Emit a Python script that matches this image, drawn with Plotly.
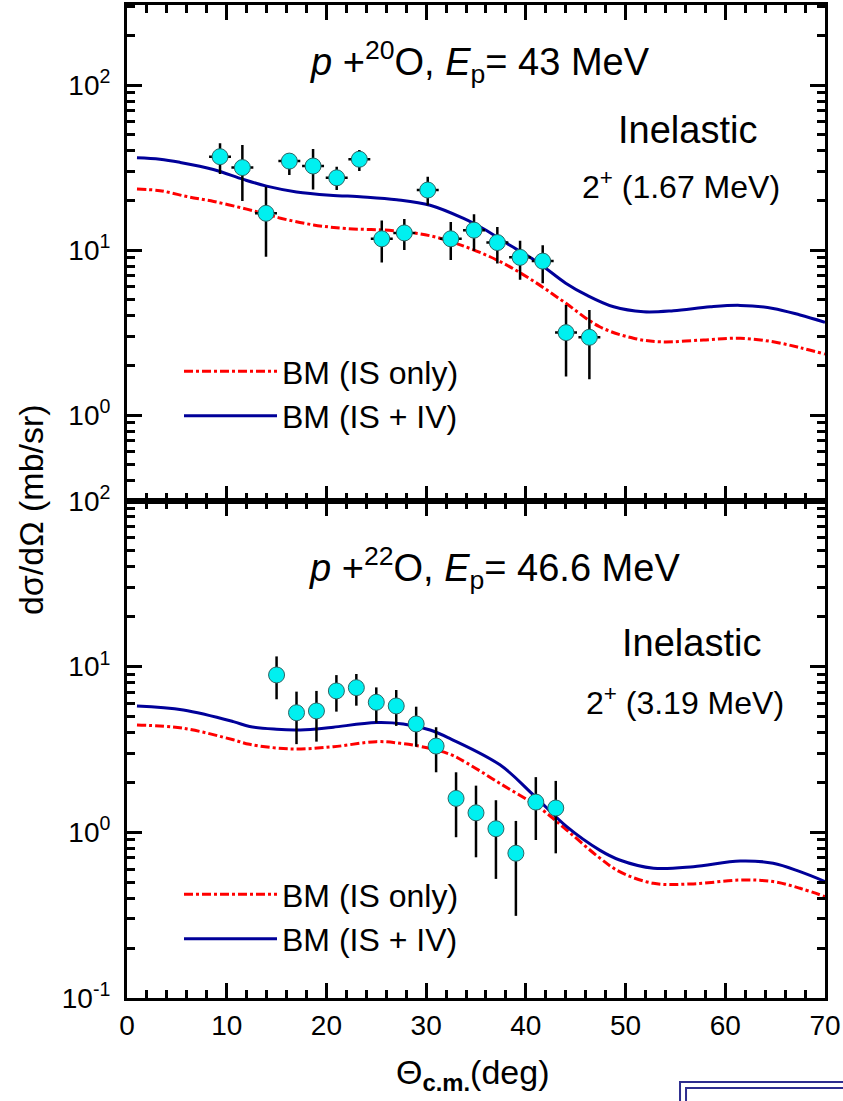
import plotly.graph_objects as go

# ---------------- data ----------------
# Top panel: p + 20O, Ep = 43 MeV
theta_20 = [9.33, 11.57, 13.94, 16.28, 18.66, 21.03, 23.3, 25.55, 27.81, 30.16,
            32.47, 34.8, 37.14, 39.42, 41.69, 44.03, 46.37]
xs_20 = [36.8, 31.6, 16.7, 34.6, 32.3, 27.4, 35.5, 11.7, 12.7, 23.1,
         11.7, 13.2, 11.1, 9.03, 8.57, 3.16, 2.96]
xs_20_hi = [44.4, 43.3, 24.2, 38.2, 40.9, 32.0, 40.4, 15.1, 15.4, 27.8,
            14.8, 16.5, 13.8, 11.4, 10.7, 4.64, 4.33]
xs_20_lo = [28.9, 19.8, 9.1, 28.5, 23.3, 23.1, 30.1, 8.4, 10.0, 18.7,
            8.7, 9.9, 8.3, 6.6, 6.3, 1.71, 1.65]
theta_err_20 = 1.1

th_iv_20 = [1, 3.3, 5.3, 8.66, 11.67, 14.0, 17.0, 20.36, 23.7, 27.05, 30.4, 33.7,
            35.7, 38.4, 41.1, 44.0, 46.1, 48.8, 51.8, 54.8, 58.5, 61.5, 64.8, 67.5, 70]
bm_iv_20 = [36.2, 35.5, 34.0, 30.8, 26.8, 24.4, 22.5, 21.5, 21.0, 20.2, 18.7, 15.6,
            13.5, 10.7, 8.5, 6.3, 5.33, 4.53, 4.23, 4.29, 4.53, 4.62, 4.43, 4.04, 3.65]
th_is_20 = [1, 3.3, 6.0, 8.7, 12.0, 14.0, 15.4, 18.7, 22.0, 26.7, 30.4, 33.7, 37.1,
            40.4, 43.8, 47.4, 50.8, 53.5, 57.8, 61.5, 64.8, 67.5, 70]
bm_is_20 = [23.4, 22.9, 21.1, 19.7, 17.7, 16.5, 15.6, 14.2, 13.5, 13.1, 12.2, 10.6, 8.7,
            6.7, 4.86, 3.43, 2.92, 2.78, 2.85, 2.92, 2.78, 2.56, 2.34]

# Bottom panel: p + 22O, Ep = 46.6 MeV
theta_22 = [15, 17, 19, 21, 23, 25, 27, 29, 31, 33, 35, 37, 39, 41, 43]
xs_22 = [8.89, 5.26, 5.39, 7.12, 7.45, 6.08, 5.78, 4.50, 3.31, 1.60, 1.31, 1.05, 0.747, 1.52, 1.40]
xs_22_hi = [11.5, 7.05, 7.12, 8.87, 9.01, 7.48, 7.21, 5.72, 4.30, 2.30, 1.91, 1.56, 1.17, 2.15, 2.04]
xs_22_lo = [6.34, 3.40, 3.52, 5.34, 5.80, 4.58, 4.38, 3.28, 2.30, 0.933, 0.706, 0.523, 0.313, 0.898, 0.746]

th_iv_22 = [1, 5.65, 10.66, 12.3, 15.0, 17.0, 19.0, 20.7, 25.0, 27.7, 30.4, 32.5, 37.4,
            40.75, 44.1, 47.4, 49.4, 52.8, 56.8, 61.5, 64.8, 67.5, 70]
bm_iv_22 = [5.78, 5.47, 4.65, 4.34, 4.18, 4.14, 4.20, 4.30, 4.59, 4.50, 4.14, 3.65, 2.55,
            1.68, 1.08, 0.78, 0.68, 0.607, 0.62, 0.671, 0.65, 0.578, 0.504]
th_is_22 = [1, 5.65, 10.66, 12.3, 16.5, 20.7, 25.0, 27.4, 29.7, 32.4, 34.1, 37.4, 41.4,
            44.1, 47.4, 49.4, 52.8, 56.8, 61.5, 64.8, 67.5, 70]
bm_is_22 = [4.44, 4.24, 3.61, 3.39, 3.18, 3.28, 3.52, 3.44, 3.27, 2.95, 2.61, 1.97, 1.40,
            1.03, 0.70, 0.578, 0.492, 0.488, 0.515, 0.504, 0.459, 0.409]

x_ticks = [0, 10, 20, 30, 40, 50, 60, 70]
y_ticks = [0.1, 1, 10, 100]
y_ticktext = ["10<sup>-1</sup>", "10<sup>0</sup>", "10<sup>1</sup>", "10<sup>2</sup>"]

# ---------------- styling ----------------
RED = "#FF0000"
BLUE = "#000099"
CYAN = "#00F0F0"
FONT = "Arial, Liberation Sans, sans-serif"
BOUND = 0.5008

fig = go.Figure()

def add_panel(xa, ya, th_is, bm_is, th_iv, bm_iv, th, v, hi, lo, xerr, legend):
    fig.add_trace(go.Scatter(x=th_is, y=bm_is, mode="lines", name="BM (IS only)",
                             line=dict(color=RED, width=3, dash="9px,3px,3px,3px", shape="spline"),
                             xaxis=xa, yaxis=ya, legend=legend))
    fig.add_trace(go.Scatter(x=th_iv, y=bm_iv, mode="lines", name="BM (IS + IV)",
                             line=dict(color=BLUE, width=3, shape="spline"),
                             xaxis=xa, yaxis=ya, legend=legend))
    ex = dict(type="constant", value=xerr, color="black", thickness=2.5, width=0) if xerr else None
    fig.add_trace(go.Scatter(
        x=th, y=v, mode="markers", showlegend=False, xaxis=xa, yaxis=ya,
        marker=dict(color=CYAN, size=16, line=dict(color="#2E6464", width=1)),
        error_y=dict(type="data", symmetric=False,
                     array=[h - c for h, c in zip(hi, v)],
                     arrayminus=[c - l for c, l in zip(v, lo)],
                     color="black", thickness=2.5, width=0),
        error_x=ex))

add_panel("x2", "y2", th_is_20, bm_is_20, th_iv_20, bm_iv_20,
          theta_20, xs_20, xs_20_hi, xs_20_lo, theta_err_20, "legend")
add_panel("x", "y", th_is_22, bm_is_22, th_iv_22, bm_iv_22,
          theta_22, xs_22, xs_22_hi, xs_22_lo, None, "legend2")

minor_log = [m * 10 ** e for e in range(-1, 3) for m in range(2, 10)]

common_x = dict(range=[0, 70], tickvals=x_ticks, ticks="inside", ticklen=15, tickwidth=3,
                tickcolor="black", showline=True, linewidth=3, linecolor="black",
                mirror="ticks", showgrid=False, zeroline=False, automargin=False,
                minor=dict(dtick=2, ticks="inside", ticklen=8, tickwidth=2.5,
                           tickcolor="black", showgrid=False),
                tickfont=dict(size=28, color="black", family=FONT))
common_y = dict(type="log", tickvals=y_ticks, ticktext=y_ticktext, ticks="inside",
                ticklen=15, tickwidth=3, tickcolor="black", showline=True, linewidth=3,
                linecolor="black", mirror="ticks", showgrid=False, zeroline=False,
                automargin=False, ticklabelstandoff=8,
                minor=dict(tickvals=minor_log, ticks="inside", ticklen=8, tickwidth=2.5,
                           tickcolor="black", showgrid=False),
                tickfont=dict(size=28, color="black", family=FONT))

fig.update_layout(
    template="none",
    width=843, height=1101,
    margin=dict(l=127, r=18, t=5, b=103, pad=0),
    paper_bgcolor="white", plot_bgcolor="white",
    font=dict(family=FONT, color="black"),
    xaxis=dict(domain=[0, 1], anchor="y", **common_x),
    xaxis2=dict(domain=[0, 1], anchor="y2", matches="x", showticklabels=False, **common_x),
    yaxis=dict(domain=[0, BOUND], anchor="x", range=[-1, 2], **common_y),
    yaxis2=dict(domain=[BOUND, 1], anchor="x2", range=[-0.519, 2.485], **common_y),
    legend=dict(x=0.0745, y=0.6587, xanchor="left", yanchor="top", itemwidth=93,
                bgcolor="rgba(0,0,0,0)", borderwidth=0,
                font=dict(size=32, family=FONT), tracegroupgap=0),
    legend2=dict(x=0.0745, y=0.1320, xanchor="left", yanchor="top", itemwidth=93,
                 bgcolor="rgba(0,0,0,0)", borderwidth=0,
                 font=dict(size=32, family=FONT), tracegroupgap=0),
    showlegend=True,
)

ann = [
    dict(text="<i>p</i> +<sup>20</sup>O, <i>E</i><sub>p</sub>= 43 MeV", x=0.5057, y=0.9426, size=38),
    dict(text="Inelastic", x=0.8037, y=0.8746, size=38),
    dict(text="2<sup>+</sup> (1.67 MeV)", x=0.7944, y=0.8187, size=32),
    dict(text="<i>p</i> +<sup>22</sup>O, <i>E</i><sub>p</sub>= 46.6 MeV", x=0.527, y=0.4335, size=38),
    dict(text="Inelastic", x=0.8087, y=0.357, size=38),
    dict(text="2<sup>+</sup> (3.19 MeV)", x=0.800, y=0.2991, size=32),
    dict(text="Θ<sub><b>c.m.</b></sub>(deg)", x=0.4957, y=-0.0775, size=34),
]
for a in ann:
    fig.add_annotation(text=a["text"], x=a["x"], y=a["y"], xref="paper", yref="paper",
                       xanchor="center", yanchor="middle", showarrow=False,
                       font=dict(size=a["size"], family=FONT, color="black"))
fig.add_annotation(text="dσ/dΩ (mb/sr)", x=-0.1375, y=0.4914, xref="paper", yref="paper",
                   xanchor="center", yanchor="middle", showarrow=False, textangle=-90,
                   font=dict(size=34, family=FONT, color="black"))

# slide decoration (double-lined box in lower right corner)
for x0, y0 in [(0.7923, -0.0846), (0.8009, -0.0906)]:
    fig.add_shape(type="rect", xref="paper", yref="paper", x0=x0, y0=y0, x1=1.3, y1=-0.5,
                  line=dict(color="#2D2D8F", width=2), fillcolor="rgba(0,0,0,0)")

fig.write_html("out.html")
